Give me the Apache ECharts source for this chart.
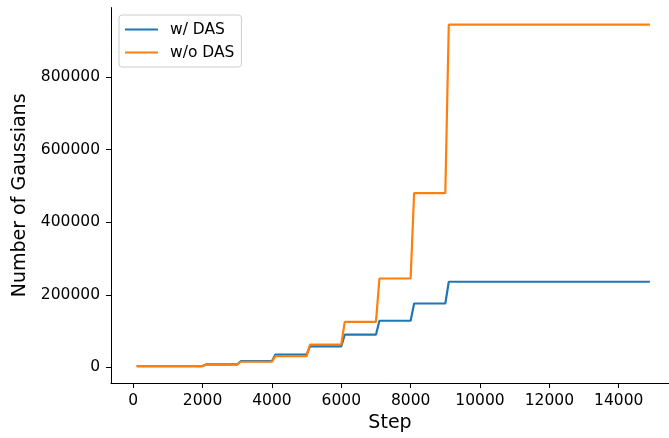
<!DOCTYPE html>
<html>
<head>
<meta charset="utf-8">
<script src="https://cdn.jsdelivr.net/npm/echarts@6/dist/echarts.min.js"></script>
<style>
  html, body { margin: 0; padding: 0; background: #fff; }
  #main { width: 669px; height: 438px; }
</style>
</head>
<body>
<div id="main"></div>
<script>
// training step of each sample where the count changes (value held until next step)
var steps = [100, 2000, 2100, 3000, 3100, 4000, 4100, 5000, 5100, 6000, 6100, 7000, 7100, 8000, 8100, 9000, 9100, 14900]
var withDas = [3700, 3700, 8000, 8000, 17000, 17000, 35500, 35500, 58000, 58000, 90000, 90000, 128500, 128500, 176000, 176000, 236000, 236000]
var withoutDas = [3700, 3700, 7500, 7500, 15500, 15500, 31000, 31000, 63000, 63000, 125500, 125500, 245000, 245000, 480000, 480000, 944500, 944500]
var xTicks = [0, 2000, 4000, 6000, 8000, 10000, 12000, 14000]
var yTicks = [0, 200000, 400000, 600000, 800000]

function pairs(xs, ys) {
  return xs.map(function (x, i) { return [x, ys[i]] })
}
// plain numbers, no thousands separators
function plain(v) { return String(v) }

var font = 'DejaVu Sans'
var myChart = echarts.init(document.getElementById('main'), null, { renderer: 'canvas' })

myChart.setOption({
  animation: false,
  color: ['#1f77b4', '#ff7f0e'],
  textStyle: { fontFamily: font, color: '#000' },
  grid: { left: 111, right: 0, top: 7.6, bottom: 54.2, containLabel: false },
  legend: {
    orient: 'vertical',
    left: 119,
    top: 15,
    padding: [6, 7, 6, 6],
    itemGap: 6,
    itemWidth: 33,
    itemHeight: 2,
    icon: 'rect',
    backgroundColor: 'rgba(255,255,255,0.8)',
    borderColor: '#cccccc',
    borderWidth: 1,
    borderRadius: 3,
    textStyle: { fontFamily: font, fontSize: 15.5, color: '#000', lineHeight: 17, padding: [0, 0, 0, 7] },
    data: ['w/ DAS', 'w/o DAS']
  },
  xAxis: {
    type: 'value',
    min: -640,
    max: 15450,
    name: 'Step',
    nameLocation: 'middle',
    nameGap: 30,
    nameTextStyle: { fontFamily: font, fontSize: 19, color: '#000' },
    axisLine: { show: true, onZero: false, lineStyle: { color: '#000', width: 1 } },
    axisTick: { show: true, length: 5, lineStyle: { color: '#000', width: 1 }, customValues: xTicks },
    axisLabel: { fontFamily: font, fontSize: 15.5, color: '#000', margin: 10, customValues: xTicks, formatter: plain },
    splitLine: { show: false }
  },
  yAxis: {
    type: 'value',
    min: -43340,
    max: 991540,
    name: 'Number of Gaussians',
    nameLocation: 'middle',
    nameGap: 74,
    nameTextStyle: { fontFamily: font, fontSize: 19, color: '#000' },
    axisLine: { show: true, onZero: false, lineStyle: { color: '#000', width: 1 } },
    axisTick: { show: true, length: 5, lineStyle: { color: '#000', width: 1 }, customValues: yTicks },
    axisLabel: { fontFamily: font, fontSize: 15.5, color: '#000', margin: 11, customValues: yTicks, formatter: plain },
    splitLine: { show: false }
  },
  series: [
    {
      name: 'w/ DAS',
      type: 'line',
      data: pairs(steps, withDas),
      showSymbol: false,
      symbol: 'none',
      lineStyle: { width: 2.2 }
    },
    {
      name: 'w/o DAS',
      type: 'line',
      data: pairs(steps, withoutDas),
      showSymbol: false,
      symbol: 'none',
      lineStyle: { width: 2.2 }
    }
  ]
})
</script>
</body>
</html>
